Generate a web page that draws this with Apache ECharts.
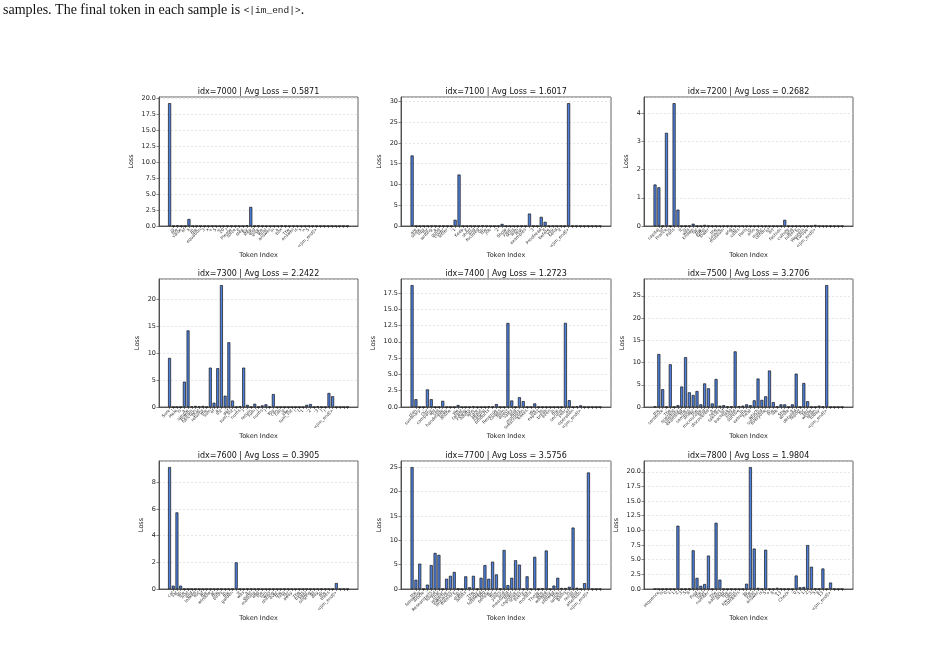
<!DOCTYPE html>
<html>
<head>
<meta charset="utf-8">
<script src="https://cdn.jsdelivr.net/npm/echarts@6/dist/echarts.min.js"></script>
<style>
html, body { margin: 0; padding: 0; background: #fff; }
#chart { width: 946px; height: 645px; }
</style>
</head>
<body>
<div id="chart"></div>
<script>
// one panel per sample: id, average loss, per-token loss, token labels
var sampleIds = [7000, 7100, 7200, 7300, 7400, 7500, 7600, 7700, 7800];
var avgLoss = ['0.5871', '1.6017', '0.2682', '2.2422', '1.2723', '3.2706', '0.3905', '3.5756', '1.9804'];
var yStep = [2.5, 5, 1, 5, 2.5, 5, 2, 5, 2.5];

var loss7000 = [19.3,0,0.05,0,0,1.1,0,0,0,0, 0,0,0,0,0,0,0,0,0,0, 0.1,3.0,0,0.05,0,0,0,0,0,0.05, 0,0,0,0,0,0,0,0,0,0, 0,0,0,0,0,0,0];
var loss7100 = [17.0,0,0,0,0,0,0,0,0,0, 0,1.5,12.4,0,0,0,0,0,0.1,0, 0,0,0,0.5,0,0,0,0,0,0, 3.0,0,0,2.2,1.0,0,0,0,0,0, 29.6,0,0,0,0,0,0,0,0];
var loss7200 = [1.47,1.37,0,3.3,0,4.35,0.58,0,0,0, 0.08,0,0,0.04,0,0,0,0,0,0, 0,0,0,0,0,0,0,0,0,0, 0,0,0,0,0.22,0,0,0,0,0, 0,0,0.04,0,0,0,0,0,0,0];
var loss7300 = [9.1,0,0,0,4.7,14.2,0.1,0.2,0.1,0.2, 0,7.3,0.8,7.2,22.6,2.1,12.0,1.2,0,0.1, 7.3,0.4,0,0.6,0,0.3,0.5,0,2.4,0, 0,0,0,0,0,0,0,0.4,0.55,0, 0.1,0,0,2.6,2.0,0,0,0,0];
var loss7400 = [18.7,1.2,0,0,2.7,1.2,0,0,0.95,0, 0,0,0.3,0,0,0,0.1,0,0,0, 0.1,0.05,0.45,0,0,12.9,1.0,0,1.5,0.9, 0,0,0.55,0,0,0,0,0,0,0, 12.9,1.05,0,0.1,0.25,0,0,0,0,0];
var loss7500 = [0.1,11.9,4.0,0,9.6,0,0.4,4.6,11.2,3.3, 2.7,3.6,0.6,5.3,4.2,0.8,6.3,0.3,0.4,0.1, 0.1,12.5,0.2,0.3,0.6,0.4,1.5,6.4,1.6,2.4, 8.2,1.1,0.1,0.6,0.6,0,0.6,7.5,0,5.4, 1.3,0,0,0.3,0.1,27.4,0,0,0,0];
var loss7600 = [9.15,0.25,5.75,0.25,0,0,0,0,0,0, 0,0,0,0,0,0,0,0,2.0,0, 0,0.03,0,0,0,0,0,0,0,0, 0,0,0,0,0,0,0,0,0,0, 0,0,0,0,0,0.45,0,0,0];
var loss7700 = [25.0,1.9,5.2,0,0.9,4.9,7.4,7.0,0,2.1, 2.7,3.5,0.05,0,2.6,0.35,2.7,0,2.3,4.9, 2.1,5.6,3.0,0.05,8.0,0.8,2.3,5.9,5.0,0, 2.6,0,6.6,0,0.1,7.9,0,0.7,2.3,0.2, 0.2,0.45,12.6,0.25,0,1.2,23.9,0,0,0];
var loss7800 = [0,0,0,0,0,0,10.8,0,0,0.05, 6.6,1.9,0.55,0.85,5.7,0,11.3,1.6,0,0, 0,0,0,0,0.9,20.8,6.9,0.2,0,6.7, 0,0,0.2,0.05,0,0,0,2.3,0.3,0.35, 7.5,3.8,0.05,0.05,3.5,0,1.1,0,0,0];

var tok7000 = 'What is the value of x in the equation 3 x + 5 = 20 ? Please solve it step by step and give the final answer in a box . The answer is x = 5 . <|im_end|>'.split(' ');
var tok7100 = 'Here are some tips for writing a good cover letter : 1 . Keep it short and focused on the job . 2 . Show your skills with real examples . 3 . Proofread it before you send it . <|im_end|>'.split(' ');
var tok7200 = 'The capital of France is Paris . It is well known for the Eiffel Tower , the Louvre museum , and its cafes . Paris is also a major center of art , fashion , culture and history in Western Europe . <|im_end|>'.split(' ');
var tok7300 = 'Sure ! Here is a simple Python function that returns the sum of a list : def sum_list ( nums ) : return sum ( nums ) . You can call it like sum_list ( [ 1 , 2 , 3 ] ) . <|im_end|>'.split(' ');
var tok7400 = 'Business plan summary : Our company will sell handmade soap online . We target young adults who care about natural products . Revenue comes from direct sales and monthly subscription boxes . We expect to break even in the second year of operation . <|im_end|>'.split(' ');
var tok7500 = 'Complete the sentence : The scientist carefully examined the samples under the microscope and discovered a new species of bacteria that could survive in extreme heat , which surprised everyone in the lab . She wrote a detailed report for her whole team today . <|im_end|>'.split(' ');
var tok7600 = 'the cat sat on the mat and looked out of the window at the birds in the garden . It was a quiet morning and the sun was shining over the hills far away . The birds kept singing all day in the trees . <|im_end|>'.split(' ');
var tok7700 = 'Summarize the following article : Researchers found that regular exercise improves memory in older adults . The study followed 500 people for five years and measured their cognitive scores every six months . Those who walked daily showed the largest gains in recall and attention . <|im_end|>'.split(' ');
var tok7800 = 'The sequence is 0 1 1 2 3 5 8 . Find the next number : The pattern adds the two previous numbers , so the next answer is 5 + 8 = 13 . Check : 0 1 1 2 3 5 8 13 . <|im_end|>'.split(' ');

var lossList = [loss7000, loss7100, loss7200, loss7300, loss7400, loss7500, loss7600, loss7700, loss7800];
var tokList = [tok7000, tok7100, tok7200, tok7300, tok7400, tok7500, tok7600, tok7700, tok7800];

// panel frames in px
var colLeft = [159, 401, 644], colWidth = [199, 210, 209];
var rowTop = [97, 279, 461], rowHeight = [129, 128, 128];

var FONT = 'DejaVu Sans';
var grids = [], xAxes = [], yAxes = [], series = [], graphics = [];

lossList.forEach(function (loss, k) {
  var r = Math.floor(k / 3), c = k % 3;
  var n = loss.length;
  var tok = tokList[k];
  var m = 0.4 + 0.05 * (n - 0.2);   // matplotlib default x margins
  var ymax = Math.max.apply(null, loss) * 1.05;
  var step = yStep[k];
  var idx = loss.map(function (v, i) { return i; });
  var gapY = step % 1 !== 0 ? 24 : (ymax >= 10 ? 18 : 14);
  var unit = colWidth[c] / (n - 1 + 2 * m);

  grids.push({
    left: colLeft[c], top: rowTop[r], width: colWidth[c], height: rowHeight[r],
    show: true, borderColor: '#3a3a3a', borderWidth: 0.8
  });
  xAxes.push({
    type: 'value', gridIndex: k, min: -m, max: n - 1 + m,
    name: 'Token Index', nameLocation: 'middle', nameGap: 24,
    nameTextStyle: { fontSize: 6.5, color: '#222', fontFamily: FONT },
    axisLine: { show: true, lineStyle: { color: '#3a3a3a', width: 0.8 } },
    axisTick: { show: true, customValues: idx, length: 2, lineStyle: { color: '#3a3a3a', width: 0.6 } },
    axisLabel: {
      customValues: idx, rotate: 45, fontSize: 4.3, color: '#333', margin: 3, fontFamily: FONT,
      formatter: function (v) { return tok[Math.round(v)] || ''; }
    },
    splitLine: { show: false }
  });
  yAxes.push({
    type: 'value', gridIndex: k, min: 0, max: ymax, interval: step,
    name: 'Loss', nameLocation: 'middle', nameGap: gapY,
    nameTextStyle: { fontSize: 6.5, color: '#222', fontFamily: FONT },
    axisLine: { show: true, onZero: false, lineStyle: { color: '#3a3a3a', width: 0.8 } },
    axisTick: { show: true, length: 2.5, lineStyle: { color: '#3a3a3a', width: 0.6 } },
    axisLabel: {
      fontSize: 6.5, color: '#222', margin: 3, showMaxLabel: false, fontFamily: FONT,
      formatter: function (v) { return step % 1 !== 0 ? v.toFixed(1) : String(v); }
    },
    splitLine: { show: true, lineStyle: { type: [2, 2], color: '#d8d8d8', width: 0.6 } }
  });
  series.push({
    type: 'bar', xAxisIndex: k, yAxisIndex: k, barWidth: unit * 0.8, silent: true,
    data: loss.map(function (v, i) { return [i, v]; }),
    itemStyle: { color: '#4f80dc', borderColor: '#151515', borderWidth: 0.7 }
  });
  graphics.push({
    type: 'text', x: colLeft[c] + colWidth[c] / 2, y: rowTop[r] - 9,
    style: {
      text: 'idx=' + sampleIds[k] + ' | Avg Loss = ' + avgLoss[k],
      align: 'center', verticalAlign: 'top', fontSize: 8, fill: '#111', fontFamily: FONT
    }
  });
});

graphics.push({
  type: 'text', x: 3, y: 3,
  style: {
    text: '{a|samples. The final token in each sample is }{b|<|im_end|>}{a|.}',
    verticalAlign: 'top',
    rich: {
      a: { fontSize: 14, fontFamily: 'Liberation Serif', fill: '#111' },
      b: { fontSize: 9.5, fontFamily: 'Liberation Mono', fill: '#222' }
    }
  }
});

var chart = echarts.init(document.getElementById('chart'));
chart.setOption({
  animation: false,
  backgroundColor: '#fff',
  grid: grids,
  xAxis: xAxes,
  yAxis: yAxes,
  series: series,
  graphic: graphics
});
</script>
</body>
</html>
